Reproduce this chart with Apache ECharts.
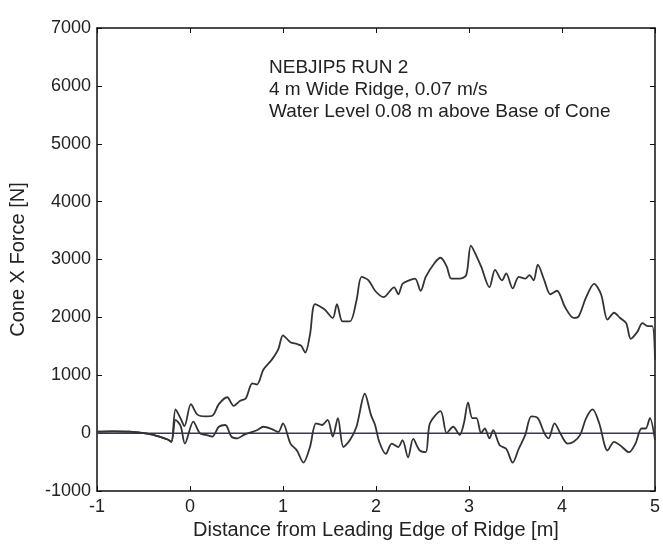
<!DOCTYPE html>
<html><head><meta charset="utf-8">
<script src="https://cdn.jsdelivr.net/npm/echarts@6/dist/echarts.min.js"></script>
<style>html,body{margin:0;padding:0;background:#fff}#c{width:663px;height:547px}</style>
</head><body><div id="c"></div>
<script>
var xTicks = [-1, 0, 1, 2, 3, 4, 5];
var yTicks = [-1000, 0, 1000, 2000, 3000, 4000, 5000, 6000, 7000];
var annotation = ['NEBJIP5 RUN 2', '4 m Wide Ridge, 0.07 m/s', 'Water Level 0.08 m above Base of Cone'];

var leadX = [-1, -0.83, -0.65, -0.46, -0.33, -0.24, -0.2];
var leadY = [25, 30, 25, -10, -60, -110, -150];

var upperX = [-0.155, -0.1, -0.06, 0.01, 0.08, 0.17, 0.24, 0.31, 0.4, 0.47, 0.54, 0.6, 0.67, 0.72, 0.79, 0.88, 0.95, 1.0, 1.08, 1.15, 1.195, 1.24, 1.29, 1.345, 1.445, 1.535, 1.58, 1.64, 1.72, 1.79, 1.845, 1.92, 1.99, 2.08, 2.195, 2.24, 2.285, 2.355, 2.42, 2.48, 2.535, 2.63, 2.695, 2.76, 2.81, 2.9, 2.97, 3.02, 3.08, 3.13, 3.22, 3.28, 3.355, 3.4, 3.47, 3.535, 3.605, 3.65, 3.695, 3.74, 3.81, 3.875, 3.945, 4.035, 4.125, 4.18, 4.26, 4.345, 4.42, 4.49, 4.56, 4.625, 4.69, 4.74, 4.81, 4.865, 4.92, 4.97, 5.0];
var upperY = [410, 250, 120, 500, 320, 290, 300, 500, 620, 470, 560, 600, 860, 840, 1100, 1270, 1450, 1690, 1570, 1540, 1510, 1390, 1700, 2230, 2140, 1990, 2230, 1930, 1930, 2290, 2700, 2640, 2460, 2350, 2520, 2400, 2580, 2640, 2670, 2460, 2700, 2940, 3030, 2880, 2670, 2670, 2730, 3240, 3060, 2880, 2520, 2820, 2640, 2760, 2500, 2700, 2670, 2730, 2640, 2910, 2640, 2400, 2460, 2170, 1990, 2020, 2350, 2580, 2400, 1960, 2080, 1990, 1900, 1630, 1750, 1900, 1850, 1850, 1270];

var lowerX = [-0.155, -0.1, -0.055, 0.036, 0.105, 0.17, 0.24, 0.31, 0.38, 0.445, 0.51, 0.58, 0.67, 0.72, 0.79, 0.88, 0.95, 1.0, 1.08, 1.15, 1.22, 1.29, 1.355, 1.42, 1.48, 1.535, 1.59, 1.65, 1.72, 1.79, 1.88, 1.945, 1.99, 2.035, 2.105, 2.17, 2.24, 2.285, 2.345, 2.4, 2.47, 2.535, 2.58, 2.695, 2.76, 2.83, 2.9, 2.945, 2.99, 3.036, 3.08, 3.13, 3.17, 3.22, 3.26, 3.33, 3.4, 3.47, 3.535, 3.605, 3.67, 3.74, 3.81, 3.855, 3.92, 3.99, 4.06, 4.125, 4.195, 4.26, 4.33, 4.4, 4.49, 4.56, 4.625, 4.72, 4.79, 4.855, 4.9, 4.945, 5.0];
var lowerY = [230, 120, -180, 200, 0, -30, -60, 110, 140, -60, -90, -30, 20, 50, 110, 70, 20, 170, -180, -300, -510, -240, 170, 140, 230, -60, 260, -240, -120, 110, 680, 320, 140, -150, -360, -180, -240, -120, -420, -100, -300, -330, 170, 380, 0, 110, -30, 170, 530, 260, 260, 0, 80, -90, 50, -210, -270, -510, -270, -30, 290, 260, 0, -90, 170, -30, -180, -150, -30, 260, 410, 170, -300, -150, -210, -330, -180, 80, 80, 260, -120];

function pairs(xs, ys) { return xs.map(function (x, i) { return [x, ys[i]]; }); }
var upperData = pairs(leadX, leadY).concat(pairs(upperX, upperY));
var lowerData = pairs(leadX, leadY).concat(pairs(lowerX, lowerY));
var zeroData = [[xTicks[0], 0], [xTicks[xTicks.length - 1], 0]];

var chart = echarts.init(document.getElementById('c'), null, { renderer: 'canvas' });
var font = 'Liberation Sans, Arial, sans-serif';
function axisCommon() {
  return {
    axisLine: { show: true, onZero: false, lineStyle: { color: '#111', width: 1.5 } },
    axisTick: { show: true, inside: true, length: 5, lineStyle: { color: '#111' } },
    splitLine: { show: false }
  };
}
var plain = function (v) { return String(v); };
chart.setOption({
  animation: false,
  backgroundColor: '#fff',
  grid: { left: 97, right: 6, top: 28, bottom: 56, containLabel: false },
  xAxis: [
    Object.assign({
      type: 'value', min: xTicks[0], max: xTicks[xTicks.length - 1], interval: 1, position: 'bottom',
      name: 'Distance from Leading Edge of Ridge [m]', nameLocation: 'middle', nameGap: 29,
      nameTextStyle: { fontFamily: font, fontSize: 20, color: '#222' },
      axisLabel: { fontFamily: font, fontSize: 18, color: '#222', margin: 7, formatter: plain }
    }, axisCommon()),
    Object.assign({ type: 'value', min: xTicks[0], max: xTicks[xTicks.length - 1], interval: 1, position: 'top', axisLabel: { show: false } }, axisCommon())
  ],
  yAxis: [
    Object.assign({
      type: 'value', min: yTicks[0], max: yTicks[yTicks.length - 1], interval: 1000, position: 'left',
      name: 'Cone X Force [N]', nameLocation: 'middle', nameGap: 69, nameRotate: 90,
      nameTextStyle: { fontFamily: font, fontSize: 20, color: '#222' },
      axisLabel: { fontFamily: font, fontSize: 18, color: '#222', margin: 6, formatter: plain }
    }, axisCommon()),
    Object.assign({ type: 'value', min: yTicks[0], max: yTicks[yTicks.length - 1], interval: 1000, position: 'right', axisLabel: { show: false } }, axisCommon())
  ],
  graphic: [{
    type: 'text', left: 269, top: 57,
    style: { text: annotation.join('\n'), fontFamily: font, fontSize: 19, lineHeight: 22, fill: '#222' }
  }],
  series: [
    { type: 'line', data: zeroData, showSymbol: false, lineStyle: { color: '#3a3a48', width: 1.5 }, z: 1 },
    { type: 'line', data: lowerData, showSymbol: false, smooth: 0.3, lineStyle: { color: '#333', width: 1.8 }, z: 2 },
    { type: 'line', data: upperData, showSymbol: false, smooth: 0.3, lineStyle: { color: '#333', width: 1.8 }, z: 3 }
  ]
});
</script></body></html>
